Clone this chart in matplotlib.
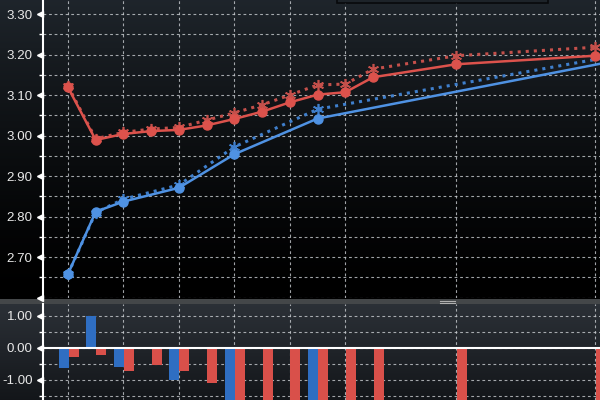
import numpy as np
import matplotlib
matplotlib.use("Agg")
import matplotlib.pyplot as plt
import matplotlib.patches as patches
from matplotlib.lines import Line2D
from matplotlib.transforms import blended_transform_factory
from matplotlib.ticker import MultipleLocator, FuncFormatter

# tenor positions along the (pseudo-log) curve axis
red_pos = [0, 1, 2, 3, 4, 5, 6, 7, 8, 9, 10, 11, 14, 19]
blue_pos = [0, 1, 2, 4, 6, 9, 20]

# yields: current (solid) and previous (dotted)
red_now = [3.119, 2.989, 3.004, 3.011, 3.014, 3.025, 3.041, 3.059, 3.082, 3.101, 3.107, 3.144, 3.176, 3.197]
red_prev = [3.122, 2.992, 3.008, 3.016, 3.020, 3.038, 3.056, 3.076, 3.100, 3.125, 3.127, 3.164, 3.197, 3.218]
blue_now = [2.658, 2.812, 2.837, 2.871, 2.954, 3.042, 3.188]
blue_prev = [2.658, 2.810, 2.843, 2.878, 2.972, 3.065, 3.200]

# change (bp)
red_chg = [-0.27, -0.22, -0.72, -0.53, -0.71, -1.08, -1.7, -1.8, -1.9, -2.4, -2.2, -1.9, -1.8, -2.0]
blue_chg = [-0.61, 1.0, -0.58, -1.0, -1.8, -2.3, -1.2]

grid_pos = [0, 2, 4, 6, 8, 10, 14, 19]

RED = "#dc524c"
RED_DOT = "#c4504b"
BLUE = "#4f92e3"
BLUE_DOT = "#3f7fcc"
RED_BAR = "#d9504a"
BLUE_BAR = "#2f6ec2"
TXT = "#e8e8e8"
GRID = "#c9cdd1"

plt.rcParams['font.family'] = ['Liberation Sans', 'DejaVu Sans']

fig = plt.figure(figsize=(6, 4), dpi=100)
fig.patch.set_facecolor("black")

# background gradient for whole figure
H = 400
bg = np.zeros((H, 1, 3))
top_c = np.array([0.12, 0.145, 0.17])
for r in range(H):
    if r < 299:
        t = r / 299.0
        bg[r, 0] = top_c * (1 - t) ** 1.4
    elif r < 304:
        bg[r, 0] = [0.27, 0.28, 0.29]
    else:
        t = (r - 304) / 96.0
        bg[r, 0] = np.array([0.17, 0.19, 0.215]) * (1 - t) + np.array([0.075, 0.085, 0.10]) * t
bgax = fig.add_axes([0, 0, 1, 1], zorder=-10)
bgax.imshow(bg, aspect="auto", extent=[0, 1, 0, 1], origin="upper")
bgax.axis("off")

ax1 = fig.add_axes([43 / 600, 102 / 400, 557 / 600, 298 / 400])
ax2 = fig.add_axes([43 / 600, 0, 557 / 600, 96 / 400])

xmin, xmax = -0.9, 19.18
for ax in (ax1, ax2):
    ax.set_facecolor("none")
    ax.set_xlim(xmin, xmax)
    ax.set_xticks(grid_pos)
    ax.tick_params(axis="x", length=0, labelbottom=False)
    for s in ("top", "right", "bottom"):
        ax.spines[s].set_visible(False)
    ax.spines["left"].set_color("white")
    ax.spines["left"].set_linewidth(1.5)
    ax.set_axisbelow(True)
    ax.grid(axis="x", color=GRID, lw=0.8, ls=(0, (2.5, 2.5)), alpha=0.8)
    ax.grid(axis="y", which="both", color=GRID, lw=0.8, ls=(0, (2.5, 2.5)), alpha=0.8)
    ax.tick_params(axis="y", which="major", length=0, pad=7.5, labelsize=9.6, labelcolor=TXT)
    ax.tick_params(axis="y", which="minor", length=3, width=1, color="white", direction="out")

# upper panel: curves
ax1.set_ylim(2.599, 3.3346)
ax1.yaxis.set_major_locator(MultipleLocator(0.1))
ax1.yaxis.set_minor_locator(MultipleLocator(0.05))
ax1.yaxis.set_major_formatter(FuncFormatter(lambda v, p: "" if v < 2.65 else f"{v:.2f}"))

ax1.plot(red_pos, red_prev, ls=":", lw=2.2, color=RED_DOT, marker=(6, 2, 0), ms=8, mew=1.2, zorder=3)
ax1.plot(blue_pos, blue_prev, ls=":", lw=2.2, color=BLUE_DOT, marker=(6, 2, 0), ms=8, mew=1.2, zorder=3)
ax1.plot(red_pos, red_now, ls="-", lw=1.8, color=RED, marker="o", ms=6.5, zorder=4, clip_on=True)
ax1.plot(blue_pos, blue_now, ls="-", lw=1.8, color=BLUE, marker="o", ms=6.5, zorder=4)

# lower panel: changes
ax2.set_ylim(-1.625, 1.375)
ax2.yaxis.set_major_locator(MultipleLocator(1.0))
ax2.yaxis.set_minor_locator(MultipleLocator(0.5))
ax2.yaxis.set_major_formatter(FuncFormatter(lambda v, p: f"{v:.2f}"))
w = 0.36
ax2.bar(np.array(blue_pos) - 0.16, blue_chg, width=w, color=BLUE_BAR, zorder=2)
ax2.bar(np.array(red_pos) + 0.2, red_chg, width=w, color=RED_BAR, zorder=2)
ax2.axhline(0, color="white", lw=1.5, zorder=3)

# triangle tick markers
for ax, ticks in ((ax1, [2.6, 2.7, 2.8, 2.9, 3.0, 3.1, 3.2, 3.3]), (ax2, [-1.0, 0.0, 1.0])):
    tr = blended_transform_factory(ax.transAxes, ax.transData)
    ax.plot([-3.5 / 557] * len(ticks), ticks, ls="none", marker="<", ms=4.5,
            color="white", transform=tr, clip_on=False, zorder=5)

# partially visible legend box at top and splitter grip
fig.patches.append(patches.Rectangle((337 / 600, 397 / 400), 211 / 600, 0.05,
                                     transform=fig.transFigure, fc="#1d2329",
                                     ec="#08090b", lw=1.2, zorder=6))
for yy in (301, 303):
    fig.lines.append(Line2D([440 / 600, 455 / 600], [(400 - yy) / 400] * 2,
                            transform=fig.transFigure, color="#b0b0b0", lw=0.8, zorder=6))

fig.savefig("out.png", dpi=100, facecolor=fig.get_facecolor())
